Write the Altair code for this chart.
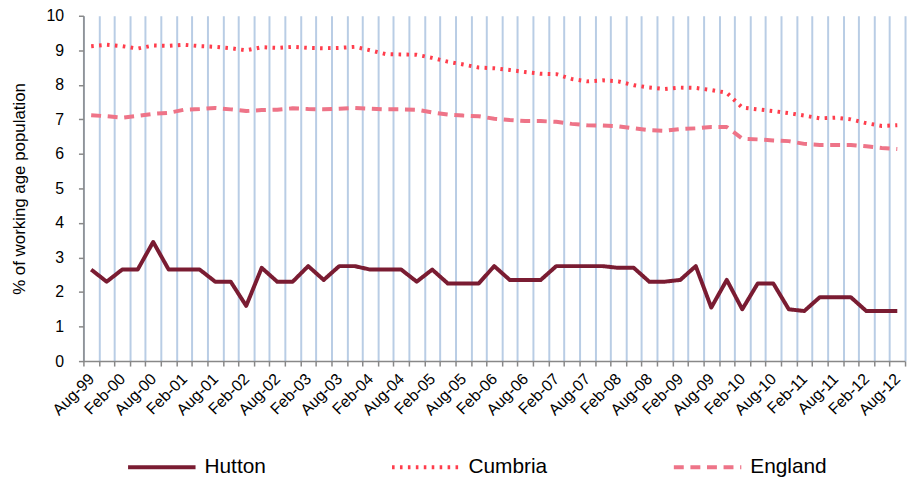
import altair as alt
import pandas as pd

quarters = [
    "Aug-99", "Nov-99", "Feb-00", "May-00", "Aug-00", "Nov-00", "Feb-01", "May-01",
    "Aug-01", "Nov-01", "Feb-02", "May-02", "Aug-02", "Nov-02", "Feb-03", "May-03",
    "Aug-03", "Nov-03", "Feb-04", "May-04", "Aug-04", "Nov-04", "Feb-05", "May-05",
    "Aug-05", "Nov-05", "Feb-06", "May-06", "Aug-06", "Nov-06", "Feb-07", "May-07",
    "Aug-07", "Nov-07", "Feb-08", "May-08", "Aug-08", "Nov-08", "Feb-09", "May-09",
    "Aug-09", "Nov-09", "Feb-10", "May-10", "Aug-10", "Nov-10", "Feb-11", "May-11",
    "Aug-11", "Nov-11", "Feb-12", "May-12", "Aug-12",
]

hutton = [
    2.65, 2.3, 2.65, 2.65, 3.45, 2.65, 2.65, 2.65, 2.3, 2.3,
    1.6, 2.7, 2.3, 2.3, 2.75, 2.35, 2.75, 2.75, 2.65, 2.65,
    2.65, 2.3, 2.65, 2.25, 2.25, 2.25, 2.75, 2.35, 2.35, 2.35,
    2.75, 2.75, 2.75, 2.75, 2.7, 2.7, 2.3, 2.3, 2.35, 2.75,
    1.55, 2.35, 1.5, 2.25, 2.25, 1.5, 1.45, 1.85, 1.85, 1.85,
    1.45, 1.45, 1.45,
]

cumbria = [
    9.12, 9.16, 9.12, 9.05, 9.14, 9.13, 9.16, 9.12, 9.1, 9.06,
    9.0, 9.09, 9.07, 9.1, 9.07, 9.06, 9.07, 9.1, 9.0, 8.89,
    8.88, 8.87, 8.78, 8.67, 8.59, 8.5, 8.48, 8.43, 8.37, 8.32,
    8.31, 8.17, 8.1, 8.13, 8.1, 7.99, 7.92, 7.88, 7.92, 7.91,
    7.85, 7.77, 7.34, 7.29, 7.24, 7.18, 7.11, 7.03, 7.05, 7.0,
    6.89, 6.81, 6.83,
]

england = [
    7.12, 7.09, 7.05, 7.1, 7.16, 7.19, 7.28, 7.3, 7.33, 7.29,
    7.24, 7.27, 7.28, 7.32, 7.3, 7.29, 7.31, 7.33, 7.31, 7.29,
    7.29, 7.28, 7.2, 7.14, 7.11, 7.09, 7.02, 6.98, 6.95, 6.95,
    6.93, 6.87, 6.83, 6.82, 6.8, 6.74, 6.69, 6.67, 6.72, 6.74,
    6.78, 6.78, 6.44, 6.42, 6.39, 6.37, 6.29, 6.26, 6.26, 6.26,
    6.22, 6.17, 6.14,
]

series_names = ["Hutton", "Cumbria", "England"]
series_colors = ["#7a1c32", "#ff3d4c", "#ee7488"]
series_dashes = [[1, 0], [2.6, 5.4], [10, 6.7]]

rows = []
for name, vals in zip(series_names, [hutton, cumbria, england]):
    for q, v in zip(quarters, vals):
        rows.append({"quarter": q, "series": name, "value": v})
df = pd.DataFrame(rows)

label_expr = "test(/^(Aug|Feb)/, '' + datum.label) ? datum.label : ''"

legend = alt.Legend(
    title=None,
    orient="none",
    legendX=43,
    legendY=419,
    direction="horizontal",
    symbolType="stroke",
    symbolSize=4624,
    symbolStrokeWidth=4,
    labelFontSize=21,
    labelFont="Liberation Sans",
    labelColor="#000000",
    labelOffset=7,
    columnPadding=119,
    padding=0,
)

chart = alt.Chart(df).mark_line(strokeCap="butt", strokeJoin="round", strokeWidth=4).encode(
    x=alt.X(
        "quarter:N",
        sort=quarters,
        scale=alt.Scale(type="band", paddingInner=0, paddingOuter=0),
        axis=alt.Axis(
            title=None,
            tickBand="extent",
            grid=True,
            gridColor="#b9cde5",
            gridWidth=2,
            labelAngle=-45,
            labelAlign="right",
            labelBaseline="middle",
            labelExpr=label_expr,
            labelOverlap=False,
            labelFontSize=16,
            labelPadding=10,
            tickSize=5,
            tickColor="#888888",
            tickWidth=1.5,
            domainColor="#888888",
            domainWidth=1.5,
        ),
    ),
    y=alt.Y(
        "value:Q",
        scale=alt.Scale(domain=[0, 10], nice=False),
        axis=alt.Axis(
            values=list(range(11)),
            grid=False,
            title="% of working age population",
            titleFontSize=17,
            titleFontWeight="normal",
            titlePadding=18,
            labelFontSize=16,
            labelPadding=15,
            tickSize=5,
            tickColor="#888888",
            tickWidth=1.5,
            domainColor="#888888",
            domainWidth=1.5,
        ),
    ),
    color=alt.Color("series:N", scale=alt.Scale(domain=series_names, range=series_colors), legend=legend),
    strokeDash=alt.StrokeDash("series:N", scale=alt.Scale(domain=series_names, range=series_dashes), legend=legend),
).properties(
    width=828,
    height=348,
    autosize=alt.AutoSizeParams(type="none"),
    padding={"left": 76, "top": 6, "right": 6, "bottom": 118},
).configure(
    font="Liberation Sans",
).configure_axis(
    labelColor="#000000",
    titleColor="#000000",
    labelFont="Liberation Sans",
    titleFont="Liberation Sans",
).configure_view(
    stroke=None,
)

chart.save("out.html", embed_options={"renderer": "svg", "actions": False})
